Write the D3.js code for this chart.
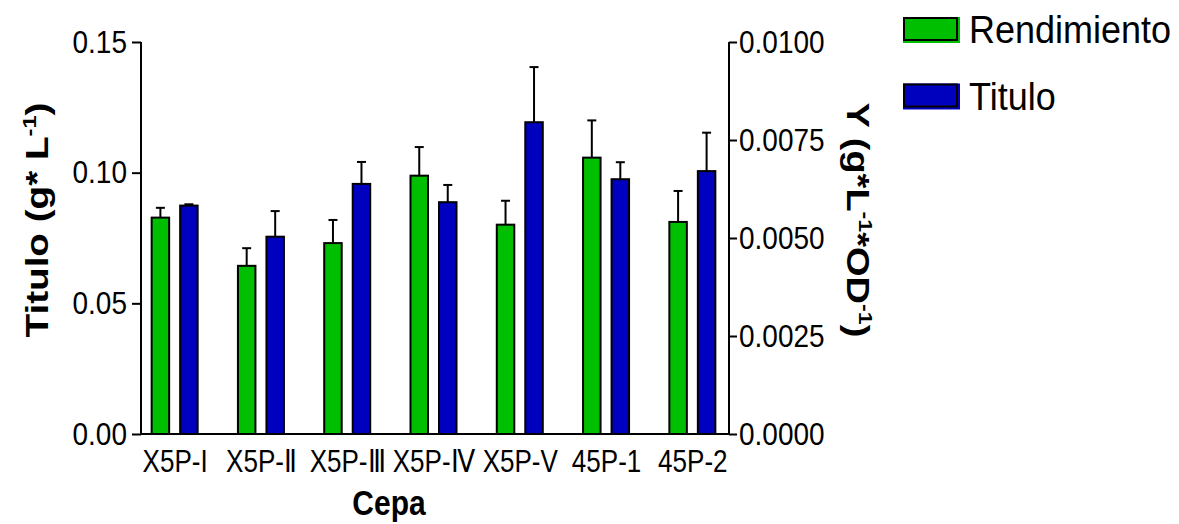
<!DOCTYPE html>
<html>
<head>
    <meta charset="utf-8">
    <title>Titulo y Rendimiento por cepa</title>
    <script src="https://d3js.org/d3.v7.min.js"></script>
    <style>
        body { margin: 0; background: #fff; }
        text { font-family: "Liberation Sans", Arial, sans-serif; fill: #000; }
    </style>
</head>
<body>
    <div id="chart"></div>
    <script>
        // data
        var cepas = ["X5P-I", "X5P-\u2161", "X5P-\u2162", "X5P-\u2163", "X5P-V", "45P-1", "45P-2"];
        var series = ["Rendimiento", "Titulo"];
        // Rendimiento on right axis (g*L-1*OD-1), Titulo on left axis (g*L-1)
        var rendimiento = [0.00552, 0.00429, 0.00487, 0.00659, 0.00534, 0.00705, 0.00541];
        var rendimientoErr = [0.00025, 0.00045, 0.00059, 0.00073, 0.00061, 0.00095, 0.00079];
        var titulo = [0.0874, 0.0755, 0.0957, 0.0887, 0.1193, 0.0975, 0.1006];
        var tituloErr = [0.0005, 0.0098, 0.0084, 0.0066, 0.0211, 0.0065, 0.0147];
        var leftTicks = [0, 0.05, 0.10, 0.15];
        var rightTicks = [0, 0.0025, 0.0050, 0.0075, 0.0100];
        var colors = {Rendimiento: "#00BF00", Titulo: "#0000BF"};

        var width = 1179, height = 524;
        var plotLeft = 141, plotRight = 729, plotTop = 42, plotBottom = 434;
        var stretch = 1.15; // text in the original is a bit taller than wide

        var svg = d3.select("#chart").append("svg")
            .attr("width", width)
            .attr("height", height);

        var x = d3.scalePoint().domain(cepas).range([plotLeft, 726]).padding(0.39);
        var xs = d3.scaleBand().domain(series).range([-24, 24]).paddingInner(0.316);
        var yL = d3.scaleLinear().domain([0, 0.15]).range([plotBottom, plotTop]);
        var yR = d3.scaleLinear().domain([0, 0.01]).range([plotBottom, plotTop]);

        var rows = [];
        cepas.forEach(function(c, i) {
            rows.push({cepa: c, s: "Rendimiento", v: rendimiento[i], e: rendimientoErr[i], y: yR});
            rows.push({cepa: c, s: "Titulo", v: titulo[i], e: tituloErr[i], y: yL});
        });

        // error bars (drawn first so bar outline sits over the stem)
        var eb = svg.append("g").attr("stroke", "#000").attr("stroke-width", 2);
        rows.forEach(function(d) {
            var cx = x(d.cepa) + xs(d.s) + xs.bandwidth() / 2;
            eb.append("line").attr("x1", cx).attr("x2", cx)
                .attr("y1", d.y(d.v)).attr("y2", d.y(d.v + d.e));
            eb.append("line").attr("x1", cx - 4.5).attr("x2", cx + 4.5)
                .attr("y1", d.y(d.v + d.e)).attr("y2", d.y(d.v + d.e));
        });

        svg.append("g").selectAll("rect")
            .data(rows)
            .enter().append("rect")
            .attr("x", function(d) { return x(d.cepa) + xs(d.s) + 1; })
            .attr("width", xs.bandwidth() - 2)
            .attr("y", function(d) { return d.y(d.v); })
            .attr("height", function(d) { return plotBottom - d.y(d.v); })
            .attr("fill", function(d) { return colors[d.s]; })
            .attr("stroke", "#000")
            .attr("stroke-width", 2);

        // axes
        var axL = svg.append("g").attr("transform", "translate(" + plotLeft + ",0)")
            .call(d3.axisLeft(yL).tickValues(leftTicks).tickFormat(d3.format(".2f")).tickSize(9).tickPadding(5));
        var axR = svg.append("g").attr("transform", "translate(" + plotRight + ",0)")
            .call(d3.axisRight(yR).tickValues(rightTicks).tickFormat(d3.format(".4f")).tickSize(8).tickPadding(2));
        [axL, axR].forEach(function(ax) {
            ax.select(".domain").attr("stroke-width", 2).attr("d", "M0," + plotTop + "V" + plotBottom);
            ax.selectAll(".tick line").attr("stroke-width", 2);
            ax.attr("font-size", 28).attr("font-family", "Liberation Sans, Arial, sans-serif");
            ax.selectAll("text").attr("transform", "scale(1," + stretch + ")");
        });

        var axB = svg.append("g").attr("transform", "translate(0," + plotBottom + ")")
            .call(d3.axisBottom(x).tickSize(0).tickPadding(15));
        axB.select(".domain").attr("stroke-width", 2).attr("d", "M" + (plotLeft - 1) + ",0H" + (plotRight + 1));
        axB.attr("font-size", 28).attr("font-family", "Liberation Sans, Arial, sans-serif");
        axB.selectAll("text").attr("transform", "scale(0.93,1.1)");

        // axis titles
        svg.append("text").attr("text-anchor", "middle")
            .attr("transform", "translate(389,515) scale(1," + stretch + ")")
            .attr("font-size", 30).attr("font-weight", "bold").text("Cepa");

        function fitTitle(t, len, cx, cy, rot) {
            var n = t.node().getComputedTextLength();
            t.attr("transform", "translate(" + cx + "," + cy + ") rotate(" + rot + ") scale(" + (len / n) + ",1)");
        }

        var tl = svg.append("text").attr("text-anchor", "middle").attr("font-size", 31).attr("font-weight", "bold");
        tl.append("tspan").text("Titulo (g* L");
        tl.append("tspan").attr("font-size", 19).attr("dy", -12).text("-1");
        tl.append("tspan").attr("dy", 12).text(")");
        fitTitle(tl, 235, 48, 220, -90);

        var tr = svg.append("text").attr("text-anchor", "middle").attr("font-size", 31).attr("font-weight", "bold");
        tr.append("tspan").text("Y (g*L");
        tr.append("tspan").attr("font-size", 19).attr("dy", -12).text("-1");
        tr.append("tspan").attr("dy", 12).text("*OD");
        tr.append("tspan").attr("font-size", 19).attr("dy", -12).text("-1");
        tr.append("tspan").attr("dy", 12).text(")");
        fitTitle(tr, 235, 847, 220, 90);

        // legend
        var lg = svg.append("g").selectAll("g")
            .data(series)
            .enter().append("g")
            .attr("transform", function(d, i) { return "translate(903," + (17 + i * 66.5) + ")"; });
        lg.append("rect").attr("width", 57).attr("height", 26)
            .attr("fill", function(d) { return colors[d]; });
        lg.append("rect").attr("x", 1).attr("y", 1).attr("width", 53).attr("height", 22)
            .attr("fill", function(d) { return colors[d]; })
            .attr("stroke", "#000").attr("stroke-width", 2);
        lg.append("text").attr("transform", "translate(66,26) scale(1,1.08)")
            .attr("font-size", 36).text(function(d) { return d; });
    </script>
</body>
</html>
